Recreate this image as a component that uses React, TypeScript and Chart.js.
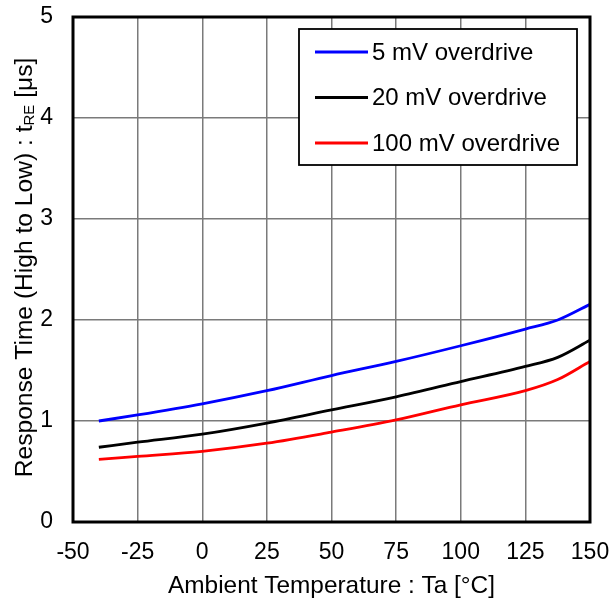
import React, { useEffect, useRef } from "react";
import { Chart, registerables } from "chart.js";

Chart.register(...registerables);

const temperatures = [-40, -25, 0, 25, 50, 75, 100, 125, 137.5, 150];
const overdrive5mV = [1.0, 1.06, 1.17, 1.3, 1.45, 1.59, 1.745, 1.91, 2.0, 2.155];
const overdrive20mV = [0.74, 0.79, 0.87, 0.98, 1.11, 1.24, 1.39, 1.54, 1.63, 1.8];
const overdrive100mV = [0.62, 0.65, 0.7, 0.78, 0.89, 1.01, 1.16, 1.3, 1.41, 1.59];
const seriesLabels = ["5 mV overdrive", "20 mV overdrive", "100 mV overdrive"];
const seriesColors = ["#0000ff", "#000000", "#ff0000"];
const xTitle = "Ambient Temperature : Ta [°C]";
const yTitleMain = "Response Time (High to Low) : t";
const yTitleSub = "RE";
const yTitleEnd = " [μs]";

const FONT = "'Liberation Sans', Arial, Helvetica, sans-serif";

const framePlugin = {
  id: "frameAndExtras",
  afterDatasetsDraw(chart: any) {
    const { ctx, chartArea } = chart;
    const { left, right, top, bottom } = chartArea;
    ctx.save();
    // frame
    ctx.strokeStyle = "#000";
    ctx.lineWidth = 3;
    ctx.strokeRect(left, top, right - left, bottom - top);

    // legend
    const bx = left + 226;
    const by = top + 12;
    const bw = 278;
    const bh = 136;
    ctx.fillStyle = "#fff";
    ctx.fillRect(bx, by, bw, bh);
    ctx.lineWidth = 1.8;
    ctx.strokeStyle = "#000";
    ctx.strokeRect(bx, by, bw, bh);
    ctx.font = `24px ${FONT}`;
    ctx.textBaseline = "middle";
    ctx.textAlign = "left";
    chart.data.datasets.forEach((ds: any, i: number) => {
      const y = by + 23 + i * 45.5;
      ctx.strokeStyle = ds.borderColor;
      ctx.lineWidth = 3;
      ctx.beginPath();
      ctx.moveTo(bx + 16, y);
      ctx.lineTo(bx + 69, y);
      ctx.stroke();
      ctx.fillStyle = "#000";
      ctx.fillText(ds.label, bx + 73, y + 1);
    });

    // y title with subscript
    const cy = (top + bottom) / 2 - 2;
    const mainFont = `24.6px ${FONT}`;
    const subFont = `15px ${FONT}`;
    ctx.font = mainFont;
    const w1 = ctx.measureText(yTitleMain).width;
    const w3 = ctx.measureText(yTitleEnd).width;
    ctx.font = subFont;
    const w2 = ctx.measureText(yTitleSub).width;
    const total = w1 + w2 + w3;
    ctx.translate(32, cy);
    ctx.rotate(-Math.PI / 2);
    ctx.fillStyle = "#000";
    ctx.textBaseline = "alphabetic";
    let x = -total / 2;
    ctx.font = mainFont;
    ctx.fillText(yTitleMain, x, 0);
    x += w1;
    ctx.font = subFont;
    ctx.fillText(yTitleSub, x, 2);
    x += w2;
    ctx.font = mainFont;
    ctx.fillText(yTitleEnd, x, 0);
    ctx.restore();
  },
};

function zeroPadding(s: any) {
  s.paddingLeft = 0;
  s.paddingRight = 0;
  s.paddingTop = 0;
  s.paddingBottom = 0;
}

export default function App() {
  const ref = useRef<HTMLCanvasElement | null>(null);

  useEffect(() => {
    if (!ref.current) return;
    const values = [overdrive5mV, overdrive20mV, overdrive100mV];
    const chart = new Chart(ref.current, {
      type: "line",
      data: {
        datasets: values.map((v, i) => ({
          label: seriesLabels[i],
          data: temperatures.map((t, j) => ({ x: t, y: v[j] })),
          borderColor: seriesColors[i],
          backgroundColor: seriesColors[i],
          borderWidth: 2.8,
          pointRadius: 0,
          cubicInterpolationMode: "monotone" as const,
          fill: false,
        })),
      },
      options: {
        animation: false,
        responsive: false,
        devicePixelRatio: 1,
        layout: { padding: { top: 17, right: 21, left: 0, bottom: 0 } },
        plugins: {
          legend: { display: false },
          tooltip: { enabled: false },
        },
        scales: {
          x: {
            type: "linear",
            min: -50,
            max: 150,
            afterFit: (s: any) => {
              s.height = 80;
              zeroPadding(s);
            },
            ticks: {
              stepSize: 25,
              padding: 17,
              color: "#000",
              font: { family: FONT, size: 23 },
              maxRotation: 0,
            },
            grid: { color: "#7a7a7a", lineWidth: 1.5, drawTicks: false },
            border: { display: false },
            title: {
              display: true,
              text: xTitle,
              color: "#000",
              font: { family: FONT, size: 24.4 },
              padding: { top: 0, bottom: 1 },
            },
          },
          y: {
            type: "linear",
            min: 0,
            max: 5,
            afterFit: (s: any) => {
              s.width = 73;
              zeroPadding(s);
            },
            ticks: {
              stepSize: 1,
              padding: 20,
              color: "#000",
              font: { family: FONT, size: 23 },
            },
            grid: { color: "#7a7a7a", lineWidth: 1.5, drawTicks: false },
            border: { display: false },
          },
        },
      },
      plugins: [framePlugin],
    });
    return () => chart.destroy();
  }, []);

  return (
    <div style={{ position: "fixed", left: 0, top: 0, width: 611, height: 602, background: "#fff" }}>
      <canvas ref={ref} width={611} height={602} style={{ display: "block" }} />
    </div>
  );
}
